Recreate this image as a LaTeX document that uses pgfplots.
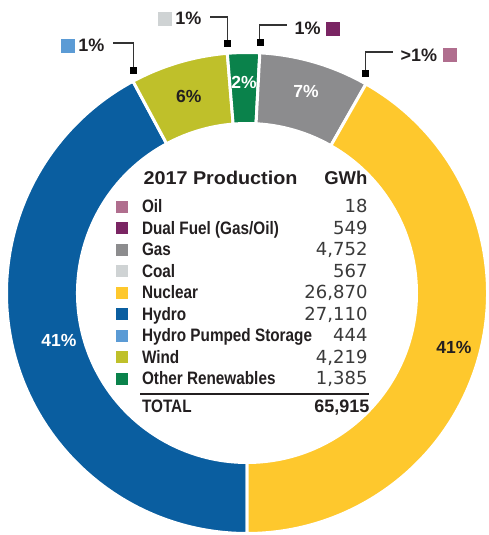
\documentclass[border=0pt]{standalone}
\usepackage{fontspec}
\setmainfont{Liberation Sans}
\newfontfamily\labfont[FakeStretch=0.85]{Liberation Sans}
\newfontfamily\titlefont[FakeStretch=1.07]{Liberation Sans}
\newfontfamily\valfont{DejaVu Sans}
\usepackage{pgfplots}
\usepackage{pgfplotstable}
\pgfplotsset{compat=1.18}

\definecolor{cHydro}{HTML}{0A5EA0}
\definecolor{cNuclear}{HTML}{FEC82D}
\definecolor{cWind}{HTML}{BFC02A}
\definecolor{cOther}{HTML}{0A824B}
\definecolor{cGas}{HTML}{8C8C8E}
\definecolor{cOil}{HTML}{B06E8E}
\definecolor{cDual}{HTML}{7A2563}
\definecolor{cCoal}{HTML}{CFD3D4}
\definecolor{cPumped}{HTML}{5B9BD5}
\definecolor{txt}{HTML}{231F20}
\definecolor{valc}{HTML}{3A3A3A}
\definecolor{ptrc}{HTML}{333333}

\newcommand\pctfont{\bfseries\fontsize{17.5}{17.5}\selectfont}
\newcommand\labf{\labfont\bfseries\fontsize{18}{18}\selectfont}
\newcommand\valf{\valfont\fontsize{18}{18}\selectfont}
\newcommand\ptrf{\bfseries\fontsize{18}{18}\selectfont}

% reported total (GWh)
\def\reportedtotal{65915}

% segments drawn in the ring, clockwise from 6 o'clock
\pgfplotstableread[col sep=comma]{
key,value,color,lr,lc
Hydro,27110,cHydro,194,white
Wind,4219,cWind,205,txt
Other,1385,cOther,211,white
Gas,4752,cGas,210,white
Nuclear,26870,cNuclear,214,txt
}\ringtable

% legend table
\pgfplotstableread[col sep=comma]{
name,value,color
Oil,18,cOil
Dual Fuel (Gas/Oil),549,cDual
Gas,4752,cGas
Coal,567,cCoal
Nuclear,26870,cNuclear
Hydro,27110,cHydro
Hydro Pumped Storage,444,cPumped
Wind,4219,cWind
Other Renewables,1385,cOther
}\legtable

\begin{document}
\begin{tikzpicture}
\def\ringsum{0}%
\pgfplotsforeachungrouped \i in {0,...,4}{%
  \pgfplotstablegetelem{\i}{value}\of{\ringtable}%
  \edef\ringsum{\fpeval{\ringsum+\pgfplotsretval}}%
}%
\pgfplotsforeachungrouped \i in {0,...,8}{%
  \pgfplotstablegetelem{\i}{value}\of{\legtable}%
  \expandafter\xdef\csname vl\i\endcsname{\pgfplotsretval}%
  \pgfplotstablegetelem{\i}{name}\of{\legtable}%
  \expandafter\xdef\csname nm\i\endcsname{\pgfplotsretval}%
  \pgfplotstablegetelem{\i}{color}\of{\legtable}%
  \expandafter\xdef\csname co\i\endcsname{\pgfplotsretval}%
  \expandafter\xdef\csname sqY\i\endcsname{\fpeval{328.5-21.5*\i}}%
  \expandafter\xdef\csname bY\i\endcsname{\fpeval{322-21.5*\i}}%
}%
\def\ang{270}%
\pgfplotsforeachungrouped \i in {0,...,4}{%
  \pgfplotstablegetelem{\i}{value}\of{\ringtable}\let\myv\pgfplotsretval
  \expandafter\xdef\csname aS\i\endcsname{\ang}%
  \edef\ang{\fpeval{round(\ang-360*\myv/\ringsum,4)}}%
  \expandafter\xdef\csname aE\i\endcsname{\ang}%
  \pgfplotstablegetelem{\i}{color}\of{\ringtable}%
  \expandafter\xdef\csname cC\i\endcsname{\pgfplotsretval}%
  \pgfplotstablegetelem{\i}{lr}\of{\ringtable}\let\mylr\pgfplotsretval
  \pgfplotstablegetelem{\i}{lc}\of{\ringtable}%
  \expandafter\xdef\csname lC\i\endcsname{\pgfplotsretval}%
  \edef\mymid{\fpeval{(\csname aS\i\endcsname+\ang)/2}}%
  \expandafter\xdef\csname lX\i\endcsname{\fpeval{round(247+\mylr*cosd(\mymid),3)}}%
  \expandafter\xdef\csname lY\i\endcsname{\fpeval{round(242+\mylr*sind(\mymid),3)}}%
  \expandafter\xdef\csname pc\i\endcsname{\fpeval{round(100*\myv/\reportedtotal)}}%
  \expandafter\xdef\csname mX\i\endcsname{\fpeval{round(247+239*cosd(\ang),3)}}%
  \expandafter\xdef\csname mY\i\endcsname{\fpeval{round(242+239*sind(\ang)+12,3)}}%
}%
\begin{axis}[
  name=main,
  scale only axis, width=489pt, height=535pt,
  xmin=0, xmax=489, ymin=0, ymax=535,
  axis lines=box, axis line style={draw=none}, ticks=none,
  clip=false,
]
% ring
\pgfplotsinvokeforeach{0,...,4}{%
  \edef\temp{\noexpand\fill[overlay, fill=\csname cC#1\endcsname, draw=white, line width=3pt, shift={(axis cs:247,242)}]
    (\csname aS#1\endcsname:240.5pt) arc[start angle=\csname aS#1\endcsname, end angle=\csname aE#1\endcsname, radius=240.5pt]
    -- (\csname aE#1\endcsname:169.5pt) arc[start angle=\csname aE#1\endcsname, end angle=\csname aS#1\endcsname, radius=169.5pt] -- cycle;}%
  \temp
  \edef\temp{\noexpand\node[font=\noexpand\pctfont, text=\csname lC#1\endcsname] at (axis cs:\csname lX#1\endcsname,\csname lY#1\endcsname) {\csname pc#1\endcsname\noexpand\%};}%
  \temp
}
% pointers
\addplot[ptrc, line width=1.2pt, forget plot] coordinates {(\csname mX0\endcsname,\csname mY0\endcsname) (\csname mX0\endcsname,492) (113,492)};
\addplot[ptrc, line width=1.2pt, forget plot] coordinates {(\csname mX1\endcsname,\csname mY1\endcsname) (\csname mX1\endcsname,518) (210,518)};
\addplot[ptrc, line width=1.2pt, forget plot] coordinates {(\csname mX2\endcsname,\csname mY2\endcsname) (\csname mX2\endcsname,510) (287,510)};
\addplot[ptrc, line width=1.2pt, forget plot] coordinates {(\csname mX3\endcsname,\csname mY3\endcsname) (\csname mX3\endcsname,483) (393,483)};
\addplot[only marks, mark=square*, mark size=3pt, color=black, forget plot] coordinates {
  (\csname mX0\endcsname,\csname mY0\endcsname) (\csname mX1\endcsname,\csname mY1\endcsname)
  (\csname mX2\endcsname,\csname mY2\endcsname) (\csname mX3\endcsname,\csname mY3\endcsname)};
\addplot[only marks, mark=square*, mark size=6.5pt, color=cPumped, forget plot] coordinates {(67.5,489)};
\addplot[only marks, mark=square*, mark size=6.5pt, color=cCoal, forget plot] coordinates {(165,516.5)};
\addplot[only marks, mark=square*, mark size=6.5pt, color=cDual, forget plot] coordinates {(332.5,506.5)};
\addplot[only marks, mark=square*, mark size=6.5pt, color=cOil, forget plot] coordinates {(449.5,480.5)};
\node[anchor=base east, font=\ptrf, text=txt] at (axis cs:108,483) {1\%};
\node[anchor=base east, font=\ptrf, text=txt] at (axis cs:205,510) {1\%};
\node[anchor=base west, font=\ptrf, text=txt] at (axis cs:291,500.5) {1\%};
\node[anchor=base west, font=\ptrf, text=txt] at (axis cs:397,473.5) {>1\%};
% legend
\node[anchor=base west, font=\titlefont\bfseries\fontsize{18.5}{18.5}\selectfont, text=txt] at (axis cs:140,350) {2017 Production};
\node[anchor=base east, font=\bfseries\fontsize{18.5}{18.5}\selectfont, text=txt] at (axis cs:371,350) {GWh};
\pgfplotsinvokeforeach{0,...,8}{%
  \edef\temp{\noexpand\addplot[only marks, mark=square*, mark size=5.5pt, color=\csname co#1\endcsname, forget plot] coordinates {(121.5,\csname sqY#1\endcsname)};}%
  \temp
  \edef\temp{\noexpand\node[anchor=base west, font=\noexpand\labf, text=txt] at (axis cs:138.5,\csname bY#1\endcsname) {\csname nm#1\endcsname};}%
  \temp
  \edef\temp{\noexpand\node[anchor=base east, font=\noexpand\valf, text=valc] at (axis cs:371,\csname bY#1\endcsname) {\noexpand\pgfmathprintnumber[1000 sep={,}, assume math mode=true]{\csname vl#1\endcsname}};}%
  \temp
}
\addplot[txt, line width=1.5pt, forget plot] coordinates {(140,141) (369,141)};
\node[anchor=base west, font=\labf, text=txt] at (axis cs:138.5,122) {TOTAL};
\node[anchor=base east, font=\bfseries\fontsize{18}{18}\selectfont, text=txt] at (axis cs:373,122) {\pgfmathprintnumber[1000 sep={,}, assume math mode=true]{\reportedtotal}};
\end{axis}
\pgfresetboundingbox
\useasboundingbox (main.south west) rectangle (main.north east);
\end{tikzpicture}
\end{document}
